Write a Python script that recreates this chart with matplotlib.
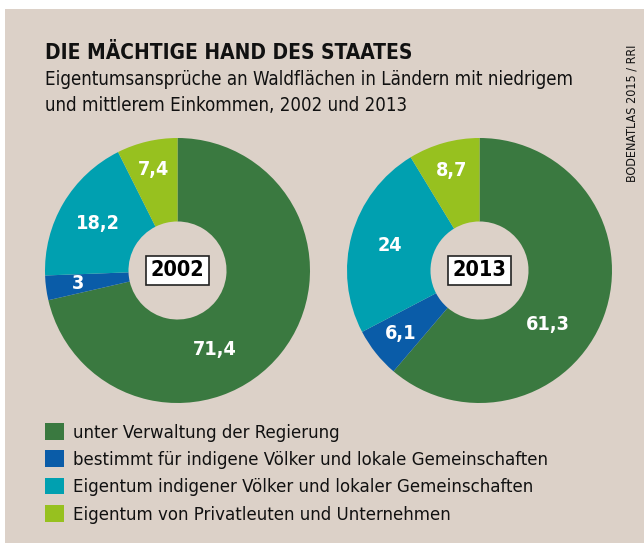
import math

import matplotlib
matplotlib.use("Agg")
import matplotlib.pyplot as plt
from matplotlib import font_manager as fm
from matplotlib.patches import Rectangle

# forest ownership shares (%) for low and middle income countries
categories = [
    "unter Verwaltung der Regierung",
    "bestimmt für indigene Völker und lokale Gemeinschaften",
    "Eigentum indigener Völker und lokaler Gemeinschaften",
    "Eigentum von Privatleuten und Unternehmen",
]
years = ["2002", "2013"]
shares_2002 = [71.4, 3.0, 18.2, 7.4]
shares_2013 = [61.3, 6.1, 24.0, 8.7]
value_labels_2002 = ["71,4", "3", "18,2", "7,4"]
value_labels_2013 = ["61,3", "6,1", "24", "8,7"]

colors = ["#3a7940", "#0a5ca8", "#00a0b0", "#97c11f"]
BG = "#dcd1c8"
INK = "#111111"
W, H = 644, 547

# prefer a narrow face; fall back to condensed DejaVu otherwise
names = {f.name for f in fm.fontManager.ttflist}
if "Liberation Sans Narrow" in names:
    plt.rcParams["font.family"] = ["Liberation Sans Narrow", "DejaVu Sans"]
else:
    plt.rcParams["font.family"] = ["DejaVu Sans"]
    plt.rcParams["font.stretch"] = "condensed"

# label placement inside the ring: radius per category, and the big
# government wedge gets its label pushed a bit further round
label_radius = [0.66, 0.76, 0.70, 0.78]
big_label_nudge = {"2002": -26, "2013": -18}


def px(x, y):
    """pixel position (from top-left) -> figure fraction"""
    return x / W, 1 - y / H


fig = plt.figure(figsize=(W / 100, H / 100), dpi=100, facecolor="white")
fig.patches.append(Rectangle(px(5, 543), (W - 5) / W, (543 - 9) / H,
                             transform=fig.transFigure, fc=BG, ec="none", zorder=-1))

fig.text(*px(45, 59), "DIE MÄCHTIGE HAND DES STAATES", fontsize=15,
         fontweight="bold", va="baseline", ha="left", color=INK)
fig.text(*px(45, 85), "Eigentumsansprüche an Waldflächen in Ländern mit niedrigem",
         fontsize=13.4, va="baseline", ha="left", color=INK)
fig.text(*px(45, 111), "und mittlerem Einkommen, 2002 und 2013",
         fontsize=13.4, va="baseline", ha="left", color=INK)
fig.text(*px(632, 45), "BODENATLAS 2015 / RRI", fontsize=9, rotation=90,
         ha="center", va="top", color=INK)

R = 132.5
hole = 0.37
centers = [(177.5, 270.5), (479.5, 270.5)]
series = [shares_2002, shares_2013]
texts = [value_labels_2002, value_labels_2013]

wedges = None
for (cx, cy), year, vals, labs in zip(centers, years, series, texts):
    left, bottom = px(cx - R, cy + R)
    ax = fig.add_axes([left, bottom, 2 * R / W, 2 * R / H])
    wedges, _ = ax.pie(vals, colors=colors, startangle=90, counterclock=False,
                       radius=1, wedgeprops=dict(width=1 - hole, edgecolor="none"))
    ax.set_xlim(-1, 1)
    ax.set_ylim(-1, 1)
    ax.set_aspect("equal")
    ax.axis("off")
    for i, (w, lab) in enumerate(zip(wedges, labs)):
        mid = (w.theta1 + w.theta2) / 2
        if i == 0:
            mid += big_label_nudge[year]
        r = label_radius[i]
        t = math.radians(mid)
        ax.text(r * math.cos(t), r * math.sin(t), lab, ha="center", va="center",
                color="white", fontsize=14.2, fontweight="bold")
    ax.text(0, 0, year, ha="center", va="center", fontsize=15.6, fontweight="bold",
            color="black",
            bbox=dict(boxstyle="square,pad=0.2", fc="white", ec="#222222", lw=1.2))

fig.legend(wedges, categories, loc="upper left", bbox_to_anchor=px(45, 423),
           frameon=False, fontsize=13.3, handlelength=1.03, handleheight=1.03,
           handletextpad=0.5, labelspacing=0.46, borderpad=0, borderaxespad=0,
           labelcolor=INK)

fig.savefig("out.png", dpi=100, facecolor="white")
